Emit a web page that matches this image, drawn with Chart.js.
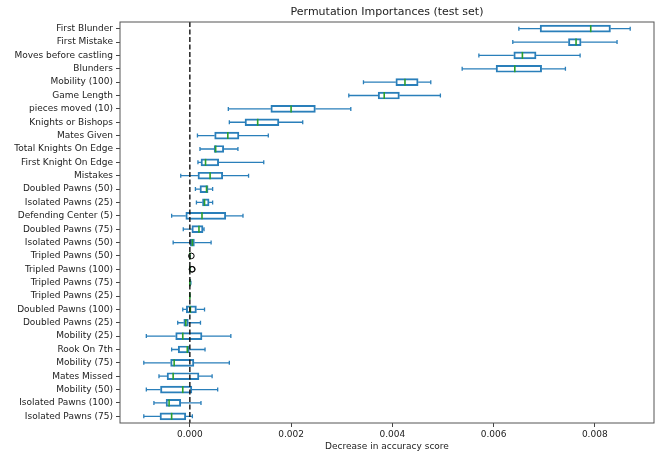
<!DOCTYPE html>
<html>
<head>
<meta charset="utf-8">
<script src="https://cdn.jsdelivr.net/npm/chart.js@4.4.1/dist/chart.umd.min.js"></script>
<style>
  html, body { margin: 0; padding: 0; background: #fff; }
  #wrap { width: 663px; height: 456px; }
</style>
</head>
<body>
<div id="wrap"><canvas id="perm-chart"></canvas></div>
<script>
const features = ['First Blunder', 'First Mistake', 'Moves before castling', 'Blunders', 'Mobility (100)', 'Game Length',
  'pieces moved (10)', 'Knights or Bishops', 'Mates Given', 'Total Knights On Edge', 'First Knight On Edge', 'Mistakes',
  'Doubled Pawns (50)', 'Isolated Pawns (25)', 'Defending Center (5)', 'Doubled Pawns (75)', 'Isolated Pawns (50)',
  'Tripled Pawns (50)', 'Tripled Pawns (100)', 'Tripled Pawns (75)', 'Tripled Pawns (25)', 'Doubled Pawns (100)',
  'Doubled Pawns (25)', 'Mobility (25)', 'Rook On 7th', 'Mobility (75)', 'Mates Missed', 'Mobility (50)',
  'Isolated Pawns (100)', 'Isolated Pawns (75)'];

const whiskerLow = [0.00650, 0.00638, 0.00571, 0.00538, 0.00343, 0.00314, 0.00076, 0.00078, 0.00015, 0.00020, 0.00016, -0.00018,
  0.00011, 0.00013, -0.00036, -0.00013, -0.00033, 0, 0, 0, 0, -0.00014, -0.00024, -0.00086, -0.00036, -0.00091, -0.00061, -0.00086, -0.00071, -0.00091];
const q1 = [0.00692, 0.00748, 0.00640, 0.00605, 0.00407, 0.00372, 0.00160, 0.00109, 0.00049, 0.00048, 0.00022, 0.00016,
  0.00020, 0.00025, -0.00008, 0.00004, 0.00001, 0, 0, 0, 0, -0.00007, -0.00012, -0.00028, -0.00023, -0.00038, -0.00045, -0.00058, -0.00047, -0.00059];
const medians = [0.00792, 0.00763, 0.00657, 0.00642, 0.00425, 0.00384, 0.00200, 0.00134, 0.00075, 0.00051, 0.00031, 0.00040,
  0.00033, 0.00029, 0.00024, 0.00018, 0.00005, 0, 0, 0, 0, 0.00001, -0.00008, -0.00014, -0.00005, -0.00031, -0.00033, -0.00014, -0.00041, -0.00036];
const q3 = [0.00831, 0.00773, 0.00684, 0.00695, 0.00451, 0.00414, 0.00248, 0.00176, 0.00097, 0.00067, 0.00057, 0.00065,
  0.00036, 0.00038, 0.00071, 0.00026, 0.00009, 0, 0, 0.00002, 0, 0.00013, -0.00003, 0.00024, 0.00000, 0.00008, 0.00018, 0.00004, -0.00018, -0.00008];
const whiskerHigh = [0.00870, 0.00844, 0.00771, 0.00742, 0.00476, 0.00495, 0.00318, 0.00223, 0.00155, 0.00095, 0.00146, 0.00116,
  0.00045, 0.00045, 0.00105, 0.00028, 0.00042, 0, 0, 0.00002, 0, 0.00029, 0.00021, 0.00081, 0.00030, 0.00078, 0.00044, 0.00055, 0.00022, 0.00005];
// outliers only show up on the tripled pawns rows
const outliers = {17: [0.00003], 18: [0.00004, 0.00005]};

const xTicks = [0, 0.002, 0.004, 0.006, 0.008];
const xMin = -0.00138;
const xMax = 0.00917;

const boxBlue = '#2a7fba';
const medianGreen = '#2ca02c';

// whiskers, caps, medians, outliers, zero line and frame
const boxExtras = {
  id: 'boxExtras',
  afterDatasetsDraw(chart) {
    const {ctx, chartArea, scales: {x, y}} = chart;
    ctx.save();
    ctx.beginPath();
    ctx.rect(chartArea.left, chartArea.top, chartArea.right - chartArea.left, chartArea.bottom - chartArea.top);
    ctx.clip();
    features.forEach((f, i) => {
      const py = y.getPixelForValue(i);
      const xl = x.getPixelForValue(whiskerLow[i]);
      const x1 = x.getPixelForValue(q1[i]);
      const x3 = x.getPixelForValue(q3[i]);
      const xh = x.getPixelForValue(whiskerHigh[i]);
      ctx.strokeStyle = boxBlue;
      ctx.lineWidth = 1.3;
      ctx.beginPath();
      ctx.moveTo(xl, py); ctx.lineTo(x1, py);
      ctx.moveTo(x3, py); ctx.lineTo(xh, py);
      ctx.moveTo(xl, py - 2); ctx.lineTo(xl, py + 2);
      ctx.moveTo(xh, py - 2); ctx.lineTo(xh, py + 2);
      ctx.stroke();
      const xm = x.getPixelForValue(medians[i]);
      ctx.strokeStyle = medianGreen;
      ctx.lineWidth = 1.6;
      ctx.beginPath();
      ctx.moveTo(xm, py - 3.5); ctx.lineTo(xm, py + 3.5);
      ctx.stroke();
      (outliers[i] || []).forEach(v => {
        ctx.strokeStyle = '#000';
        ctx.lineWidth = 1;
        ctx.beginPath();
        ctx.arc(x.getPixelForValue(v), py, 2.8, 0, Math.PI * 2);
        ctx.stroke();
      });
    });
    const x0 = x.getPixelForValue(0);
    ctx.strokeStyle = '#111';
    ctx.lineWidth = 1.4;
    ctx.setLineDash([5, 2.5]);
    ctx.beginPath();
    ctx.moveTo(x0, chartArea.top); ctx.lineTo(x0, chartArea.bottom);
    ctx.stroke();
    ctx.restore();

    ctx.save();
    ctx.strokeStyle = '#555';
    ctx.lineWidth = 1;
    ctx.strokeRect(chartArea.left, chartArea.top, chartArea.right - chartArea.left, chartArea.bottom - chartArea.top);
    ctx.restore();
  }
};

const ctx = document.getElementById('perm-chart');
const tickFont = {family: 'DejaVu Sans', size: 9};

new Chart(ctx, {
  type: 'bar',
  data: {
    labels: features,
    datasets: [{
      data: q1.map((v, i) => [v, q3[i]]),
      borderColor: boxBlue,
      backgroundColor: 'rgba(255,255,255,0)',
      borderWidth: 1.3,
      borderSkipped: false,
      barThickness: 7,
    }]
  },
  options: {
    indexAxis: 'y',
    responsive: true,
    maintainAspectRatio: false,
    animation: false,
    layout: {padding: {left: 0, right: 9, top: 0, bottom: 0}},
    plugins: {
      legend: {display: false},
      tooltip: {enabled: false},
    },
    scales: {
      y: {
        type: 'category',
        offset: true,
        grid: {offset: false, drawOnChartArea: false, tickLength: 4, color: '#444'},
        border: {display: false},
        ticks: {font: tickFont, color: '#222', padding: 3, autoSkip: false},
        afterFit: (scale) => { scale.width = 120; },
      },
      x: {
        type: 'linear',
        position: 'bottom',
        min: xMin,
        max: xMax,
        afterBuildTicks: (scale) => { scale.ticks = xTicks.map(v => ({value: v})); },
        ticks: {font: tickFont, color: '#222', padding: 2, callback: (v) => v.toFixed(3)},
        grid: {drawOnChartArea: false, tickLength: 4, color: '#444'},
        border: {display: false},
        title: {display: true, text: 'Decrease in accuracy score', font: tickFont, color: '#222', padding: {top: 0, bottom: 4}},
        afterFit: (scale) => { scale.height = 33; },
      },
      top: {
        type: 'linear',
        position: 'top',
        axis: 'x',
        min: xMin,
        max: xMax,
        ticks: {display: false},
        grid: {display: false},
        border: {display: false},
        title: {display: true, text: 'Permutation Importances (test set)', font: {family: 'DejaVu Sans', size: 11}, color: '#222', padding: {top: 6, bottom: 0}},
        afterFit: (scale) => { scale.height = 22; },
      }
    }
  },
  plugins: [boxExtras]
});
</script>
</body>
</html>
